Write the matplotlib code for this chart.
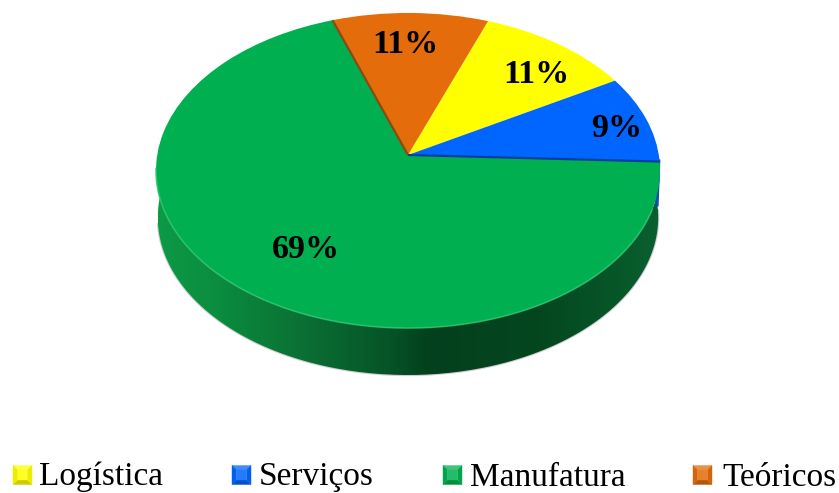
import matplotlib
matplotlib.use("Agg")
import matplotlib.pyplot as plt
import numpy as np
from matplotlib.colors import LinearSegmentedColormap, to_rgb
from matplotlib.patches import PathPatch, Polygon
from matplotlib.path import Path
from matplotlib.transforms import Transform

# Data
categories = ["Logística", "Serviços", "Manufatura", "Teóricos"]
percents = [11, 9, 69, 11]

colors = ["#FFFF00", "#0066FF", "#00B050", "#E46C0A"]

plt.rcParams["font.family"] = ["Liberation Serif", "DejaVu Serif"]

# geometry of the tilted disc, in image pixels
APEX_X, APEX_Y = 408, 155
START_ANGLE = 69.6
DEPTH = 47


class Tilt(Transform):
    """Perspective view of the unit disc: the far half looks flatter than the near half."""

    input_dims = 2
    output_dims = 2

    def __init__(self, dy=0.0, b=250.8, a=156.0, k=0.0984):
        super().__init__()
        self.dy, self.b, self.a, self.k = dy, b, a, k

    def transform_non_affine(self, values):
        values = np.asarray(values, dtype=float)
        w = 1 + self.k * values[:, 1]
        x = APEX_X + self.b * values[:, 0] / w
        y = APEX_Y + self.dy - self.a * values[:, 1] / w
        return np.column_stack([x, y])


def rim(tilt, theta):
    """Pixel points of the disc rim at the angles theta (degrees)."""
    rad = np.radians(theta)
    return tilt.transform_non_affine(np.column_stack([np.cos(rad), np.sin(rad)]))


def draw_wall(ax, top, bottom):
    """Side of the disc, a dark horizontal gradient clipped to the front of the rim."""
    upper = rim(top, np.linspace(-1.6, -190, 240))
    lower = rim(bottom, np.linspace(-190, -1.6, 240))
    outline = Path(np.vstack([upper, lower, upper[:1]]))

    # soft grey edge under the wall
    ax.plot(*rim(bottom, np.linspace(-3, -172, 200)).T, color="#777777", lw=1.6, alpha=0.35, zorder=1)

    cmap = LinearSegmentedColormap.from_list(
        "wall",
        [
            (0.00, "#0C9A45"),
            (0.12, "#0B8C3F"),
            (0.30, "#0A6E33"),
            (0.46, "#065427"),
            (0.54, "#03401D"),
            (0.76, "#04471F"),
            (0.92, "#075729"),
            (1.00, "#0A6030"),
        ],
    )
    gradient = np.linspace(0, 1, 512).reshape(1, -1)
    image = ax.imshow(gradient, cmap=cmap, extent=(158, 660, 385, 150), aspect="auto", zorder=2)
    clip = PathPatch(outline, transform=ax.transData, fc="none", ec="none")
    ax.add_patch(clip)
    image.set_clip_path(clip)

    # the blue slice shows a thin strip of its own wall on the right
    strip = np.vstack([rim(top, [-1.6]), rim(bottom, [-1.6])])
    ax.plot(strip[:, 0] - 0.8, strip[:, 1], color="#0B4FB0", lw=2.6, zorder=3, solid_capstyle="butt")


def draw_swatch(ax, x, y, size, color):
    """Small bevelled legend square: four shaded sides around a paler centre."""
    base = np.array(to_rgb(color))
    light = base + (1 - base) * 0.25
    dark = base * 0.8
    centre = base + (1 - base) * 0.14
    inset = size * 0.24
    x0, x1, y0, y1 = x, x + size, y, y + size
    a0, a1, b0, b1 = x0 + inset, x1 - inset, y0 + inset, y1 - inset
    sides = [
        ([(x0, y0), (x1, y0), (a1, b0), (a0, b0)], light),
        ([(x0, y1), (x1, y1), (a1, b1), (a0, b1)], dark),
        ([(x0, y0), (x0, y1), (a0, b1), (a0, b0)], base * 0.93),
        ([(x1, y0), (x1, y1), (a1, b1), (a1, b0)], base * 0.93),
        ([(a0, b0), (a1, b0), (a1, b1), (a0, b1)], centre),
    ]
    for pts, shade in sides:
        ax.add_patch(Polygon(pts, closed=True, fc=shade, ec=shade, lw=0.3, zorder=5))


fig = plt.figure(figsize=(8.39, 4.93), dpi=100)
ax = fig.add_axes([0, 0, 1, 1])

top = Tilt()
bottom = Tilt(dy=DEPTH, b=249.0)

draw_wall(ax, top, bottom)

wedges, _ = ax.pie(
    percents,
    colors=colors,
    startangle=START_ANGLE,
    counterclock=False,
    wedgeprops={"linewidth": 0},
)
for wedge in wedges:
    wedge.set_transform(top + ax.transData)
    wedge.set_zorder(4)
    wedge.set_clip_on(False)

# boundary angles of the slices, clockwise from the start
edges = START_ANGLE - np.cumsum([0] + percents) * 3.6
apex = np.array([[APEX_X, APEX_Y]])
for angle, color, width in [(edges[2], "#0A3E9E", 1.6), (edges[3], "#8A4A12", 1.6)]:
    seg = np.vstack([apex, rim(top, [angle])])
    ax.plot(seg[:, 0], seg[:, 1], color=color, lw=width, zorder=4.5, solid_capstyle="butt")

# pale highlight along the front of the top face
ax.plot(*rim(top, np.linspace(-20, -175, 200)).T, color="#2CC46C", lw=1.2, alpha=0.8, zorder=4.4)

# slice labels
label_x = [536, 616.5, 305.5, 405]
label_y = [83, 137, 258, 53]
for value, x, y in zip(percents, label_x, label_y):
    ax.text(x, y, f"{value}%", ha="center", va="baseline", fontsize=24.5,
            fontweight="bold", color="black", zorder=6)

# legend along the bottom edge
swatch_x = [13, 232, 443, 693]
text_x = [39, 259, 470, 722]
for name, color, sx, tx in zip(categories, colors, swatch_x, text_x):
    draw_swatch(ax, sx, 465.5, 19, color)
    ax.text(tx, 485.5, name, ha="left", va="baseline", fontsize=24, color="black", zorder=6)

ax.set_xlim(0, 839)
ax.set_ylim(493, 0)
ax.set_aspect("auto")
ax.axis("off")

fig.savefig("out.png", dpi=100)
